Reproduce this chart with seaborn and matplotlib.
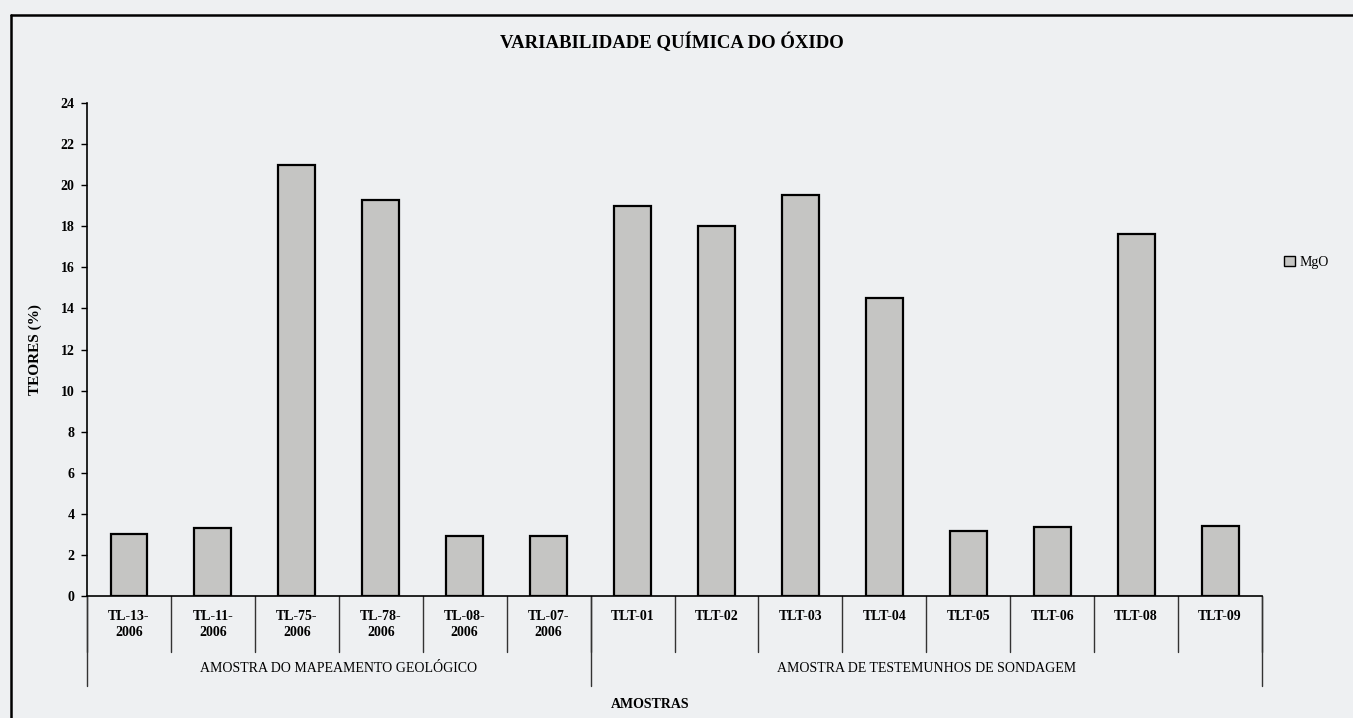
import matplotlib
matplotlib.use("Agg")
import matplotlib.pyplot as plt
from matplotlib.lines import Line2D
import seaborn as sns
import pandas as pd

# ---- data ----
samples = ["TL-13-\n2006", "TL-11-\n2006", "TL-75-\n2006", "TL-78-\n2006",
           "TL-08-\n2006", "TL-07-\n2006", "TLT-01", "TLT-02", "TLT-03",
           "TLT-04", "TLT-05", "TLT-06", "TLT-08", "TLT-09"]
mgo = [3.03, 3.29, 21.0, 19.28, 2.92, 2.92, 18.97, 18.0, 19.5,
       14.5, 3.18, 3.34, 17.6, 3.42]
groups = ["AMOSTRA DO MAPEAMENTO GEOLÓGICO", "AMOSTRA DE TESTEMUNHOS DE SONDAGEM"]
group_sizes = [6, 8]
series_name = "MgO"
title = "VARIABILIDADE QUÍMICA DO ÓXIDO"
ylabel = "TEORES (%)"
xlabel = "AMOSTRAS"
yticks = list(range(0, 25, 2))

df = pd.DataFrame({"Amostra": samples, "Teor": mgo, "Óxido": series_name})

sns.set_theme(style="white")
plt.rcParams["font.family"] = ["Liberation Serif", "DejaVu Serif"]
plt.rcParams["text.color"] = "black"
plt.rcParams["axes.labelcolor"] = "black"
plt.rcParams["xtick.color"] = "black"
plt.rcParams["ytick.color"] = "black"

bg = "#eef0f2"
fig = plt.figure(figsize=(13.53, 7.18), dpi=100, facecolor=bg)
ax = fig.add_axes([87 / 1353, 1 - 596 / 718, 1175 / 1353, 493 / 718])
ax.set_facecolor(bg)

sns.barplot(data=df, x="Amostra", y="Teor", hue="Óxido", order=samples,
            palette=["#c6c6c2"], edgecolor="black", linewidth=1.6,
            width=0.44, ax=ax, legend=True)

ax.set_xlim(-0.5, len(samples) - 0.5)
ax.set_ylim(0, 24)
ax.set_yticks(yticks)
ax.set_yticklabels([str(t) for t in yticks], fontsize=10, fontweight="bold")
ax.tick_params(axis="y", direction="out", length=4, width=1, color="black", pad=5, left=True)
ax.set_xticks(range(len(samples)))
ax.set_xticklabels(samples, fontsize=10, fontweight="bold", va="top", linespacing=1.3)
ax.tick_params(axis="x", length=0, pad=10)

for s in ["top", "right"]:
    ax.spines[s].set_visible(False)
for s in ["left", "bottom"]:
    ax.spines[s].set_color("black")
    ax.spines[s].set_linewidth(1.2)

ax.set_xlabel("")
ax.set_ylabel(ylabel, fontsize=11, fontweight="bold")
ax.yaxis.set_label_coords(-0.038, 0.5)

trans = ax.get_xaxis_transform()
# category separators
for i in range(len(samples) + 1):
    ax.add_line(Line2D([i - 0.5, i - 0.5], [0, -0.113], transform=trans,
                       color="#333333", lw=1.0, clip_on=False))
# group separators and labels
start = 0
bounds = [0]
for g, n in zip(groups, group_sizes):
    end = start + n
    bounds.append(end)
    ax.text((start + end - 1) / 2, -0.148, g, transform=trans, ha="center",
            va="center", fontsize=10)
    start = end
for b in bounds:
    ax.add_line(Line2D([b - 0.5, b - 0.5], [0, -0.182], transform=trans,
                       color="#333333", lw=1.0, clip_on=False))

ax.text(0.479, -0.221, xlabel, transform=ax.transAxes, ha="center", va="center",
        fontsize=10, fontweight="bold")

fig.text(0.4967, 0.9415, title, ha="center", va="center", fontsize=13.5, fontweight="bold")

leg = ax.legend(loc="center left", bbox_to_anchor=(1.008, 0.677), frameon=False,
                fontsize=10, handlelength=0.8, handleheight=0.8, handletextpad=0.3,
                title=None)
for h in leg.legend_handles:
    h.set_edgecolor("black")
    h.set_linewidth(1.0)

# outer frame (top and left edges visible)
fig.add_artist(Line2D([11 / 1353, 1.0], [1 - 15 / 718, 1 - 15 / 718],
                      transform=fig.transFigure, color="black", lw=1.8))
fig.add_artist(Line2D([11 / 1353, 11 / 1353], [0.0, 1 - 15 / 718],
                      transform=fig.transFigure, color="black", lw=1.8))

fig.savefig("out.png", dpi=100, facecolor=bg)
